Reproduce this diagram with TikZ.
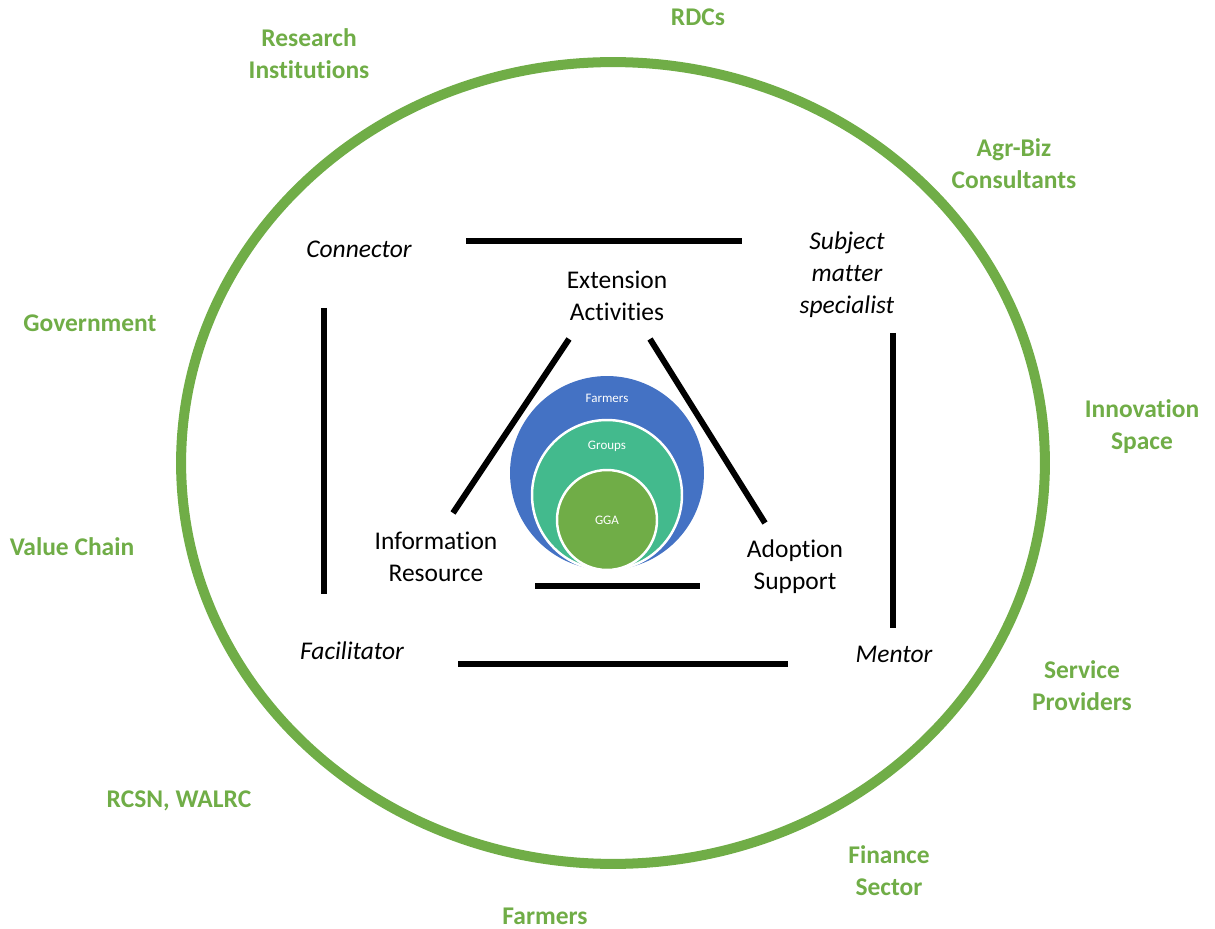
\documentclass[tikz,border=0pt]{standalone}
\usepackage{fontspec}
\setmainfont{Carlito}[Ligatures=NoCommon]
\definecolor{ringgreen}{HTML}{70AD47}
\definecolor{farmblue}{HTML}{4472C4}
\definecolor{groupteal}{HTML}{43BA8D}
\tikzset{
  role/.style={font=\fontsize{14.5}{18.2}\selectfont\itshape,align=center,inner sep=0pt},
  task/.style={font=\fontsize{14.5}{18.2}\selectfont,align=center,inner sep=0pt},
  actor/.style={font=\fontsize{14.5}{18.2}\selectfont\bfseries,text=ringgreen,align=center,inner sep=0pt},
  ringlabel/.style={font=\fontsize{7.4}{9}\selectfont,text=white,inner sep=0pt},
  bar/.style={line width=3.4pt}
}

\begin{document}
\begin{tikzpicture}[x=0.02cm,y=-0.02cm]
        \useasboundingbox(0,0)rectangle(1215,929);
        % outer ring of partners
        \draw[ringgreen,line width=5.7pt](613,463)ellipse[x radius=8.64cm,y radius=8.02cm];

        % nested circles
        \fill[farmblue](607,473)circle[radius=1.94cm];
        \draw[white,fill=groupteal,line width=1.4pt](607,495)circle[radius=1.5cm];
        \draw[white,fill=ringgreen,line width=1.4pt](607,520)circle[radius=1cm];
        \node[ringlabel](farmers)at(607,398){Farmers};
        \node[ringlabel](groups)at(607,446){Groups};
        \node[ringlabel](gga)at(607,520){GGA};

        % inner triangle
        \node[task](extension)at(617,296){Extension\\Activities};
        \node[task](information)at(436,557){Information\\Resource};
        \node[task](adoption)at(795,567){Adoption\\Support};
        \coordinate(ltop)at(569,339);
        \coordinate(lbot)at(453,513);
        \coordinate(rtop)at(650,339);
        \coordinate(rbot)at(765,523);
        \coordinate(bleft)at(535,586);
        \coordinate(bright)at(700,586);
        \draw[bar](ltop)--(lbot);
        \draw[bar](rtop)--(rbot);
        \draw[bar](bleft)--(bright);

        % outer square of roles
        \node[role](connector)at(359,249){Connector};
        \node[role](specialist)at(847,275){Subject\\matter\\specialist};
        \node[role](facilitator)at(352,651){Facilitator};
        \node[role](mentor)at(894,654){Mentor};
        \coordinate(tleft)at(466,241);
        \coordinate(tright)at(742,241);
        \coordinate(vltop)at(324,308);
        \coordinate(vlbot)at(324,594);
        \coordinate(vrtop)at(893,333);
        \coordinate(vrbot)at(893,628);
        \coordinate(fleft)at(458,664);
        \coordinate(fright)at(788,664);
        \draw[bar](tleft)--(tright);
        \draw[bar](vltop)--(vlbot);
        \draw[bar](vrtop)--(vrbot);
        \draw[bar](fleft)--(fright);

        % partners around the ring
        \node[actor](rdcs)at(698,17){RDCs};
        \node[actor](research)at(309,54){Research\\Institutions};
        \node[actor](agrbiz)at(1014,164){Agr-Biz\\Consultants};
        \node[actor](government)at(90,323){Government};
        \node[actor](innovation)at(1142,427){Innovation\\Space};
        \node[actor](valuechain)at(72,547){Value Chain};
        \node[actor](service)at(1082,686){Service\\Providers};
        \node[actor](rcsn)at(179,801){RCSN, WALRC};
        \node[actor](finance)at(889,871){Finance\\Sector};
        \node[actor](farmersout)at(545,916){Farmers};
    \end{tikzpicture}
\end{document}
